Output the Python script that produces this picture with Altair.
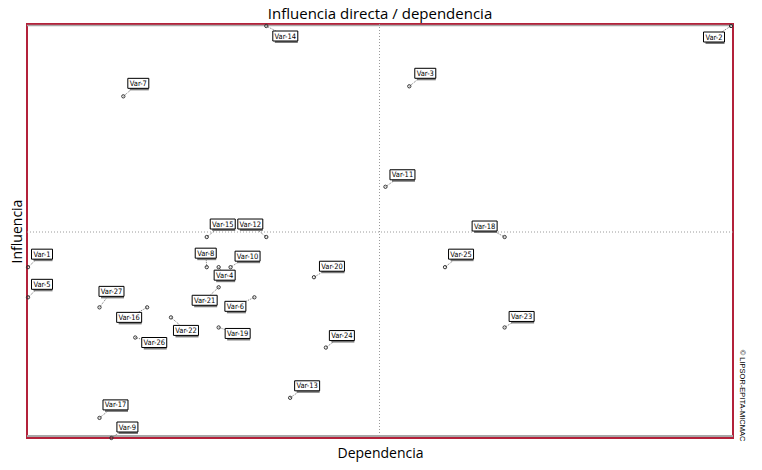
import altair as alt
import pandas as pd

# ---- data ----
variables = ["Var-1", "Var-2", "Var-3", "Var-4", "Var-5", "Var-6", "Var-7", "Var-8", "Var-9",
             "Var-10", "Var-11", "Var-12", "Var-13", "Var-14", "Var-15", "Var-16", "Var-17",
             "Var-18", "Var-19", "Var-20", "Var-21", "Var-22", "Var-23", "Var-24", "Var-25",
             "Var-26", "Var-27"]
dependencia = [0, 59, 32, 16, 0, 19, 8, 15, 7, 17, 30, 20, 22, 20, 15, 10, 6,
               40, 16, 24, 16, 12, 40, 25, 35, 9, 6]
influencia = [17, 41, 35, 17, 14, 14, 34, 17, 0, 17, 25, 20, 4, 41, 20, 13, 2,
              20, 11, 16, 15, 12, 11, 9, 17, 10, 13]

# ---- label placement (pixel offsets of label centre from its point) ----
label_dx = [14, -17, 16, 6, 14, -19, 15, -1, 16, 17, 17, -16, 17, 19, 16, -18, 16,
            -20, 19, 18, -14, 15, 17, 16, 16, 19, 12]
label_dy = [-13, 11, -13, 8, -13, 9, -13, -14, -11, -11, -12, -13, -12, 10, -13, 10, -13,
            -11, 6, -11, 13, 13, -11, -12, -13, 5, -16]

W, H = 706, 414
x_min, x_max = min(dependencia), max(dependencia)
y_min, y_max = min(influencia), max(influencia)
ux = 703 / (x_max - x_min)          # px per unit
uy = 412 / (y_max - y_min)
x_dom = [x_min - 1 / ux, x_min - 1 / ux + W / ux]
y_dom = [y_min, y_min + H / uy]
x_mid = (x_min + x_max) / 2
y_mid = (y_min + y_max) / 2

rows = []
for n, d, i, dx, dy in zip(variables, dependencia, influencia, label_dx, label_dy):
    lx = d + dx / ux
    ly = i - dy / uy
    bw = (4 * len(n) + 1) / ux / 2
    bh = 5 / uy
    rows.append(dict(name=n, dep=d, inf=i, lx=lx, ly=ly,
                     bx1=lx - bw, bx2=lx + bw, by1=ly - bh, by2=ly + bh))
df = pd.DataFrame(rows)
mid = pd.DataFrame({"xm": [x_mid], "ym": [y_mid]})
edges = pd.DataFrame({"ye": [y_dom[1], y_dom[0]], "off": [1.5, -2.0]})

xs = alt.Scale(domain=x_dom, nice=False, zero=False)
ys = alt.Scale(domain=y_dom, nice=False, zero=False)

title_font = "Open Sans"
label_font = "DejaVu Sans Condensed"

base = alt.Chart(df)

x_axis = alt.Axis(orient="bottom", labels=False, ticks=False, domain=False, grid=False,
                  title="Dependencia", titleFont=title_font, titleFontSize=14,
                  titleFontWeight="normal", titleColor="#000", titlePadding=8)

vline = alt.Chart(mid).mark_rule(color="#9a9a9a", strokeDash=[1, 2], strokeWidth=1).encode(
    x=alt.X("xm:Q", scale=xs, axis=x_axis))

hline = alt.Chart(mid).mark_rule(color="#9a9a9a", strokeDash=[1, 2], strokeWidth=1).encode(
    y=alt.Y("ym:Q", scale=ys,
            axis=alt.Axis(orient="right", labels=False, ticks=False, domain=False, grid=False,
                          title="© LIPSOR-EPITA-MICMAC", titleAngle=90, titleFontSize=7.5,
                          titleFont="Liberation Sans", titleFontWeight="normal",
                          titleColor="#000", titlePadding=4, titleY=371, titleAlign="center")))

top_edge = alt.Chart(edges).transform_filter("datum.off > 0").mark_rule(
    color="#a8a8a8", strokeWidth=1.5, yOffset=1.5).encode(
    y=alt.Y("ye:Q", scale=ys, axis=None))
bottom_edge = alt.Chart(edges).transform_filter("datum.off < 0").mark_rule(
    color="#a8a8a8", strokeWidth=2, yOffset=-2).encode(
    y=alt.Y("ye:Q", scale=ys, axis=None))

leaders = base.mark_rule(color="#777", strokeDash=[1, 1], strokeWidth=1).encode(
    x=alt.X("dep:Q", scale=xs, axis=None),
    y=alt.Y("inf:Q", scale=ys, axis=None),
    x2="lx:Q", y2="ly:Q")

points = base.mark_point(shape="circle", size=11, filled=False, color="#333",
                         strokeWidth=1, opacity=1).encode(
    x=alt.X("dep:Q", scale=xs, axis=None),
    y=alt.Y("inf:Q", scale=ys,
            axis=alt.Axis(orient="left", labels=False, ticks=False, domain=False, grid=False,
                          title="Influencia", titleFont=title_font, titleFontSize=14,
                          titleFontWeight="normal", titleColor="#000", titlePadding=3)))

shadow = base.mark_rect(fill="#7a7a7a", xOffset=2, yOffset=2).encode(
    x=alt.X("bx1:Q", scale=xs, axis=None), x2="bx2:Q",
    y=alt.Y("by1:Q", scale=ys, axis=None), y2="by2:Q")

boxes = base.mark_rect(fill="white", stroke="black", strokeWidth=1).encode(
    x=alt.X("bx1:Q", scale=xs, axis=None), x2="bx2:Q",
    y=alt.Y("by1:Q", scale=ys, axis=None), y2="by2:Q")

labels = base.mark_text(font=label_font, fontSize=7.5, color="black",
                        align="center", baseline="middle", dy=0.5).encode(
    x=alt.X("lx:Q", scale=xs, axis=None),
    y=alt.Y("ly:Q", scale=ys, axis=None),
    text="name:N")

chart = alt.layer(vline, hline, top_edge, bottom_edge, leaders, points, shadow, boxes,
                  labels).resolve_axis(
    x="independent", y="independent"
).properties(
    width=W, height=H,
    autosize=alt.AutoSizeParams(type="none"),
    padding={"left": 19, "top": 16, "right": 21, "bottom": 24},
    title=alt.TitleParams("Influencia directa / dependencia", font=title_font, fontSize=15,
                          fontWeight="normal", color="#000", offset=0, frame="group",
                          anchor="middle"),
).configure_view(stroke="#b3213a", strokeWidth=2)

chart.save("out.html", embed_options={"renderer": "svg", "actions": False})
